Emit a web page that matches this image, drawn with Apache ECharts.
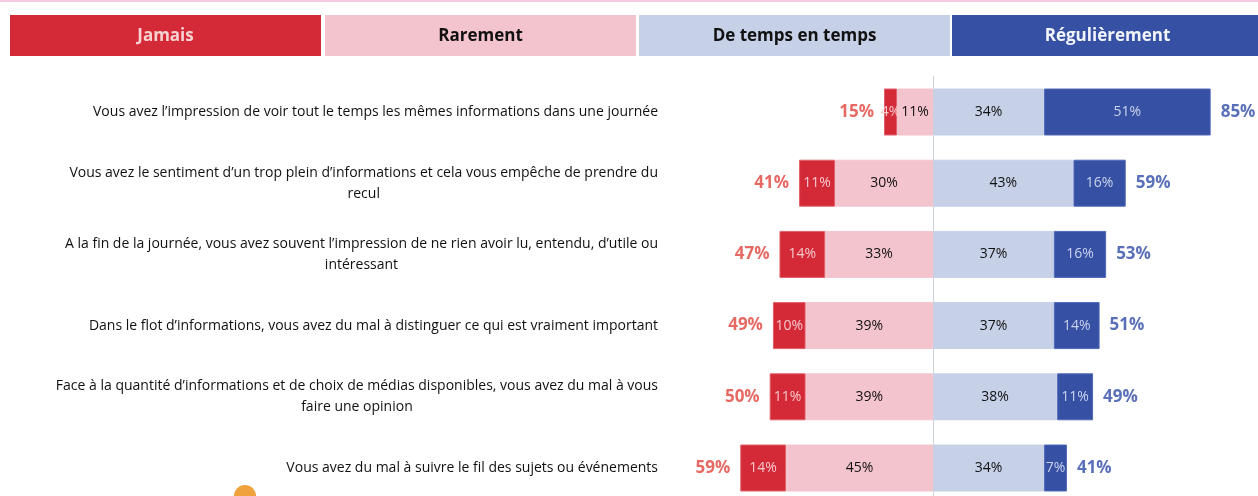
<!DOCTYPE html>
<html><head><meta charset="utf-8">
<script src="https://cdn.jsdelivr.net/npm/echarts@6/dist/echarts.min.js"></script>
<style>html,body{margin:0;padding:0;background:#fff}#c{width:1258px;height:496px}</style>
</head><body><div id="c"></div>
<script>
const categories = [
  "Vous avez l’impression de voir tout le temps les mêmes informations dans une journée",
  "Vous avez le sentiment d’un trop plein d’informations et cela vous empêche de prendre du\nrecul",
  "A la fin de la journée, vous avez souvent l’impression de ne rien avoir lu, entendu, d’utile ou\nintéressant",
  "Dans le flot d’informations, vous avez du mal à distinguer ce qui est vraiment important",
  "Face à la quantité d’informations et de choix de médias disponibles, vous avez du mal à vous\nfaire une opinion",
  "Vous avez du mal à suivre le fil des sujets ou événements"
];
const legendNames = ["Jamais", "Rarement", "De temps en temps", "Régulièrement"];
const jamais = [4, 11, 14, 10, 11, 14];
const rarement = [11, 30, 33, 39, 39, 45];
const temps = [34, 43, 37, 37, 38, 34];
const regul = [51, 16, 16, 14, 11, 7];

const FONT = "'Open Sans', sans-serif";
const colors = ["#D42A38", "#F4C4CE", "#C6D1E8", "#3650A3"];
const labelColors = ["#F6C8CC", "#111", "#111", "#CBD3EE"];

const negTotals = categories.map((c, i) => [-(jamais[i] + rarement[i]), i]);
const posTotals = categories.map((c, i) => [temps[i] + regul[i], i]);

const chart = echarts.init(document.getElementById('c'), null, {renderer: 'canvas'});

function barSeries(name, vals, sign, idx) {
  return {
    name: name, type: 'bar', stack: 'all', barWidth: 47, clip: false,
    data: vals.map(v => sign * v),
    itemStyle: {color: colors[idx], borderColor: idx === 0 ? '#E0606A' : (idx === 3 ? '#5068B8' : colors[idx]), borderWidth: 1},
    label: {show: true, position: 'inside', color: labelColors[idx], fontFamily: FONT, fontSize: 14,
      formatter: p => Math.abs(p.value) + '%'},
    silent: true, z: 2
  };
}

const hdrW = 311, hdrH = 41, hdrY = 15;
const hdrX = [10, 325, 639, 952];
const hdrText = ["#F8D2D2", "#111", "#111", "#F2F4FB"];
const graphics = [{type: 'rect', shape: {x: 0, y: 0, width: 1258, height: 2}, style: {fill: '#F3CDE3'}}];
legendNames.forEach((n, i) => {
  graphics.push({type: 'rect', shape: {x: hdrX[i], y: hdrY, width: i === 3 ? 1258 - hdrX[i] : hdrW, height: hdrH},
    style: {fill: colors[i]}});
  graphics.push({type: 'text', x: hdrX[i] + hdrW / 2, y: hdrY + hdrH / 2 + 1,
    style: {text: n, fill: hdrText[i], font: "bold 17px " + FONT, textAlign: 'center', textVerticalAlign: 'middle'}});
});
graphics.push({type: 'circle', shape: {cx: 245, cy: 496, r: 11}, style: {fill: '#F0A33C'}});

chart.setOption({
  animation: false,
  grid: {left: 737, width: 490, top: 76.4, height: 427.2, containLabel: false, outerBoundsMode: 'none'},
  xAxis: {type: 'value', min: -60, max: 90, show: false},
  yAxis: {type: 'category', data: categories, inverse: true,
    axisLine: {show: false, onZero: false}, axisTick: {show: false}, splitLine: {show: false},
    axisLabel: {margin: 79, align: 'right', fontFamily: FONT, fontSize: 14, color: '#111', lineHeight: 21,
      formatter: v => v.split('\n').map(l => '{c|' + l + '}').join('\n'),
      rich: {c: {align: 'center', fontFamily: FONT, fontSize: 14, color: '#111', lineHeight: 21}}}},
  graphic: graphics,
  series: [
    Object.assign(barSeries(legendNames[1], rarement, -1, 1), {
      markLine: {silent: true, symbol: 'none', label: {show: false},
        lineStyle: {color: '#C9D2DE', width: 1, type: 'solid'}, data: [{xAxis: 0}]}}),
    barSeries(legendNames[0], jamais, -1, 0),
    barSeries(legendNames[2], temps, 1, 2),
    barSeries(legendNames[3], regul, 1, 3),
    {type: 'scatter', data: negTotals, symbolSize: 0, silent: true, clip: false,
      label: {show: true, position: 'left', distance: 10, color: '#E0443C', fontFamily: FONT, fontWeight: 'bold', fontSize: 17,
        formatter: p => Math.abs(p.value[0]) + '%'}},
    {type: 'scatter', data: posTotals, symbolSize: 0, silent: true, clip: false,
      label: {show: true, position: 'right', distance: 10, color: '#2F4CA8', fontFamily: FONT, fontWeight: 'bold', fontSize: 17,
        formatter: p => p.value[0] + '%'}}
  ]
});
</script></body></html>
